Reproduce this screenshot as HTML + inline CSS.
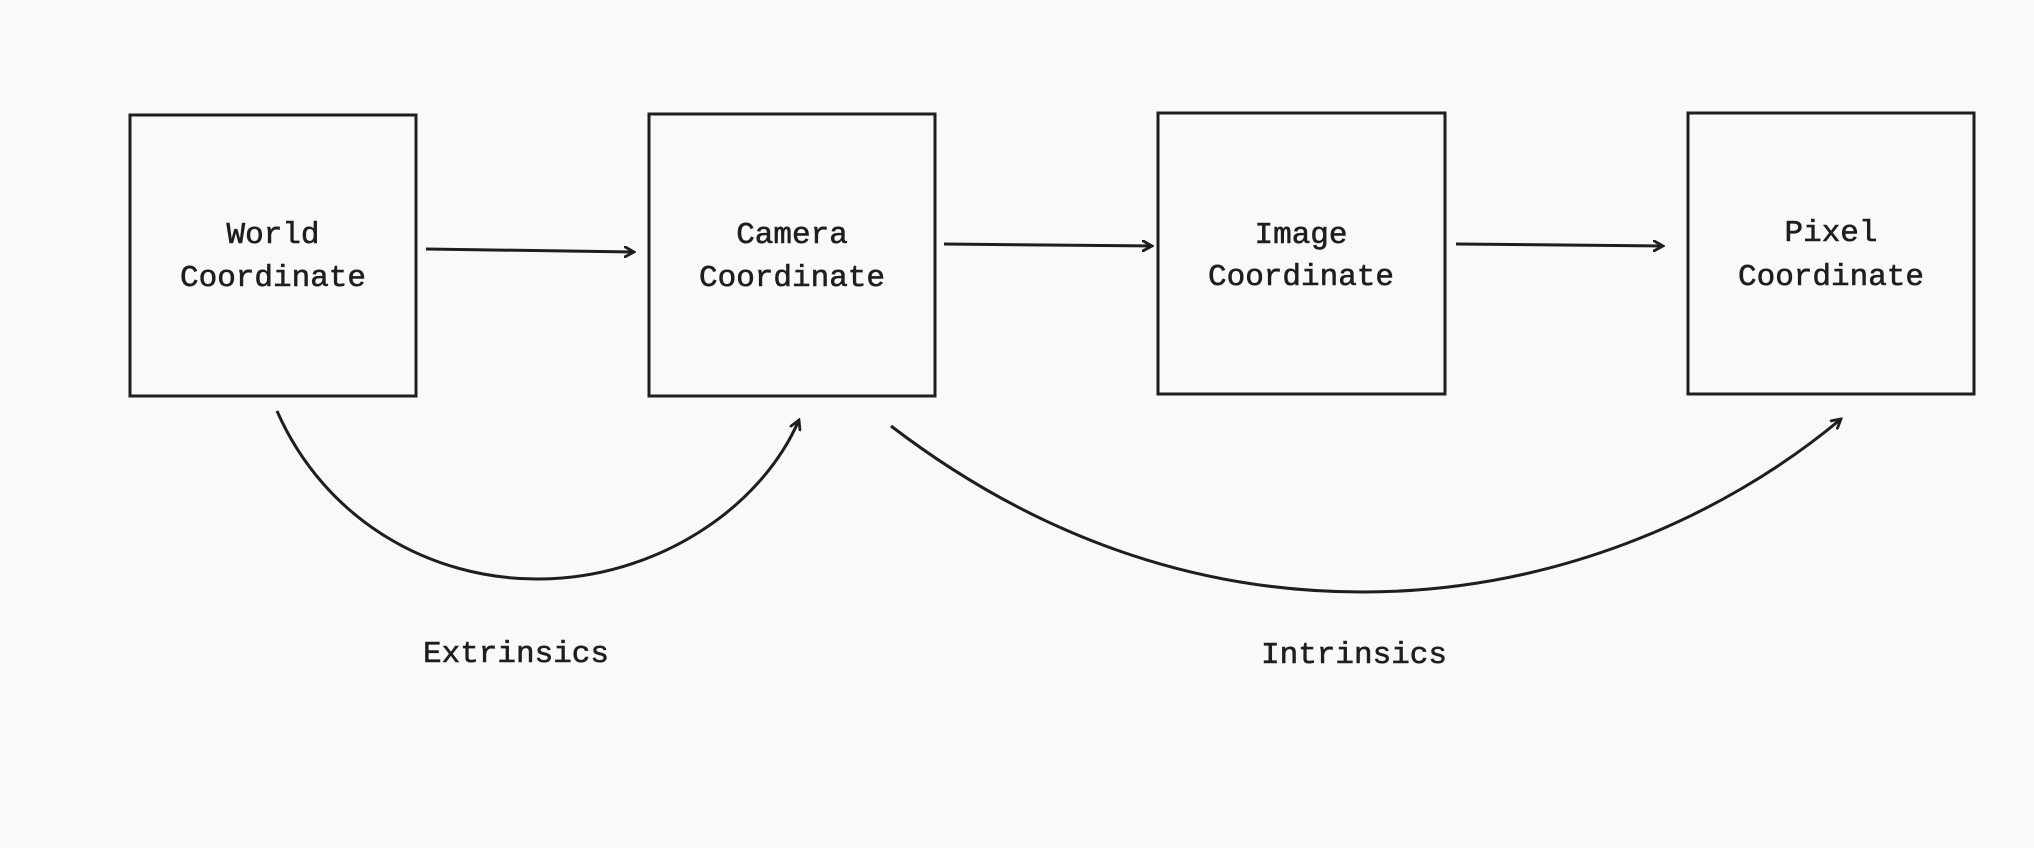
<!DOCTYPE html>
<html><head><meta charset="utf-8"><style>
html,body{margin:0;padding:0;background:#f8f9fb;}
svg{display:block}
text{font-family:"Liberation Mono",monospace;font-size:31px;fill:#1e1e1e;text-anchor:middle;stroke:#1e1e1e;stroke-width:0.6px}
</style></head><body>
<svg width="2034" height="848" viewBox="0 0 2034 848" xmlns="http://www.w3.org/2000/svg">
<rect width="2034" height="848" fill="#f8f9fb"/>
<defs><marker id="a" viewBox="0 0 12 12" refX="10" refY="6" markerWidth="12" markerHeight="12" markerUnits="userSpaceOnUse" orient="auto"><path d="M1 1 L10 6 L1 11" fill="none" stroke="#1e1e1e" stroke-width="2.8" stroke-linecap="round"/></marker></defs>
<g fill="none" stroke="#1e1e1e" stroke-width="3">
<rect x="130" y="115" width="286" height="281"/>
<rect x="649" y="114" width="286" height="282"/>
<rect x="1158" y="113" width="287" height="281"/>
<rect x="1688" y="113" width="286" height="281"/>
<path d="M426 249 L634 252" marker-end="url(#a)"/>
<path d="M944 244 L1152 246" marker-end="url(#a)"/>
<path d="M1456 244 L1663 246" marker-end="url(#a)"/>
<path d="M277 411 C325 520 430 580 540 579 C655 578 760 510 799 420" marker-end="url(#a)"/>
<path d="M891 426 C1040 540 1200 592 1362 592 C1550 592 1720 520 1841 419" marker-end="url(#a)"/>
</g>
<text x="273" y="243">World</text><text x="273" y="286">Coordinate</text>
<text x="792" y="243">Camera</text><text x="792" y="286">Coordinate</text>
<text x="1301" y="243">Image</text><text x="1301" y="285">Coordinate</text>
<text x="1831" y="241">Pixel</text><text x="1831" y="285">Coordinate</text>
<text x="516" y="662">Extrinsics</text>
<text x="1354" y="663">Intrinsics</text>
</svg>
</body></html>
